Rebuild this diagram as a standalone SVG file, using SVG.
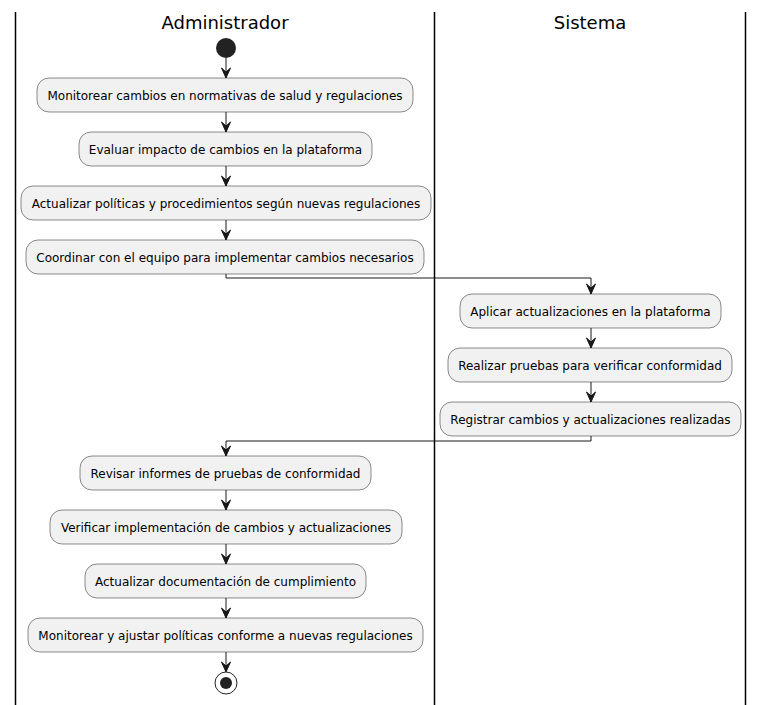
<svg xmlns="http://www.w3.org/2000/svg" width="764" height="705" viewBox="0 0 764 705">
<defs>
<style>
.lane{stroke:#000;stroke-width:1.5;fill:none}
.title{font-family:"DejaVu Sans",sans-serif;font-size:18px;fill:#000;text-anchor:middle}
.box{fill:#F1F1F1;stroke:#181818;stroke-width:0.5}
.lbl{font-family:"DejaVu Sans",sans-serif;font-size:12px;fill:#000;text-anchor:middle}
.edge{stroke:#181818;stroke-width:1;fill:none}
.ah{fill:#181818;stroke:#181818;stroke-width:1}
</style>
</defs>
<rect width="764" height="705" fill="#fff"/>
<g id="lanes">
<line class="lane" x1="15.5" y1="12" x2="15.5" y2="705"/>
<line class="lane" x1="434.5" y1="12" x2="434.5" y2="705"/>
<line class="lane" x1="745.5" y1="12" x2="745.5" y2="705"/>
<text class="title" x="225" y="29">Administrador</text>
<text class="title" x="590" y="29">Sistema</text>
</g>
<g id="connectors">
<line class="edge" x1="226" y1="58" x2="226" y2="78"/>
<polygon class="ah" points="221.5,68 226,78 230.5,68 226,72"/>
<line class="edge" x1="226" y1="112" x2="226" y2="132"/>
<polygon class="ah" points="221.5,122 226,132 230.5,122 226,126"/>
<line class="edge" x1="226" y1="166" x2="226" y2="186"/>
<polygon class="ah" points="221.5,176 226,186 230.5,176 226,180"/>
<line class="edge" x1="226" y1="220" x2="226" y2="240"/>
<polygon class="ah" points="221.5,230 226,240 230.5,230 226,234"/>
<polyline class="edge" points="226,274 226,278 591,278 591,294"/>
<polygon class="ah" points="586.5,284 591,294 595.5,284 591,288"/>
<line class="edge" x1="591" y1="328" x2="591" y2="348"/>
<polygon class="ah" points="586.5,338 591,348 595.5,338 591,342"/>
<line class="edge" x1="591" y1="382" x2="591" y2="402"/>
<polygon class="ah" points="586.5,392 591,402 595.5,392 591,396"/>
<polyline class="edge" points="591,436 591,441 226,441 226,456"/>
<polygon class="ah" points="221.5,446 226,456 230.5,446 226,450"/>
<line class="edge" x1="226" y1="490" x2="226" y2="510"/>
<polygon class="ah" points="221.5,500 226,510 230.5,500 226,504"/>
<line class="edge" x1="226" y1="544" x2="226" y2="564"/>
<polygon class="ah" points="221.5,554 226,564 230.5,554 226,558"/>
<line class="edge" x1="226" y1="598" x2="226" y2="618"/>
<polygon class="ah" points="221.5,608 226,618 230.5,608 226,612"/>
<line class="edge" x1="226" y1="652" x2="226" y2="672"/>
<polygon class="ah" points="221.5,662 226,672 230.5,662 226,666"/>
</g>
<g id="start"><circle cx="226" cy="48" r="10" fill="#222"/></g>
<g id="n1"><rect class="box" x="37" y="78" width="376" height="34" rx="12"/><text class="lbl" x="225" y="99.5">Monitorear cambios en normativas de salud y regulaciones</text></g>
<g id="n2"><rect class="box" x="79" y="132" width="293" height="34" rx="12"/><text class="lbl" x="225.5" y="153.5">Evaluar impacto de cambios en la plataforma</text></g>
<g id="n3"><rect class="box" x="21" y="186" width="410" height="34" rx="12"/><text class="lbl" x="226" y="207.5">Actualizar políticas y procedimientos según nuevas regulaciones</text></g>
<g id="n4"><rect class="box" x="26" y="240" width="398" height="34" rx="12"/><text class="lbl" x="225" y="261.5">Coordinar con el equipo para implementar cambios necesarios</text></g>
<g id="n5"><rect class="box" x="460" y="294" width="261" height="34" rx="12"/><text class="lbl" x="590.5" y="315.5">Aplicar actualizaciones en la plataforma</text></g>
<g id="n6"><rect class="box" x="448" y="348" width="284" height="34" rx="12"/><text class="lbl" x="590" y="369.5">Realizar pruebas para verificar conformidad</text></g>
<g id="n7"><rect class="box" x="440" y="402" width="301" height="34" rx="12"/><text class="lbl" x="590.5" y="423.5">Registrar cambios y actualizaciones realizadas</text></g>
<g id="n8"><rect class="box" x="80" y="456" width="291" height="34" rx="12"/><text class="lbl" x="225.5" y="477.5">Revisar informes de pruebas de conformidad</text></g>
<g id="n9"><rect class="box" x="50" y="510" width="352" height="34" rx="12"/><text class="lbl" x="226" y="531.5">Verificar implementación de cambios y actualizaciones</text></g>
<g id="n10"><rect class="box" x="85" y="564" width="281" height="34" rx="12"/><text class="lbl" x="225.5" y="585.5">Actualizar documentación de cumplimiento</text></g>
<g id="n11"><rect class="box" x="28" y="618" width="395" height="34" rx="12"/><text class="lbl" x="225.5" y="639.5">Monitorear y ajustar políticas conforme a nuevas regulaciones</text></g>
<g id="end"><circle cx="226" cy="683" r="11" fill="none" stroke="#222" stroke-width="1"/><circle cx="226" cy="683" r="6" fill="#222"/></g>
</svg>
